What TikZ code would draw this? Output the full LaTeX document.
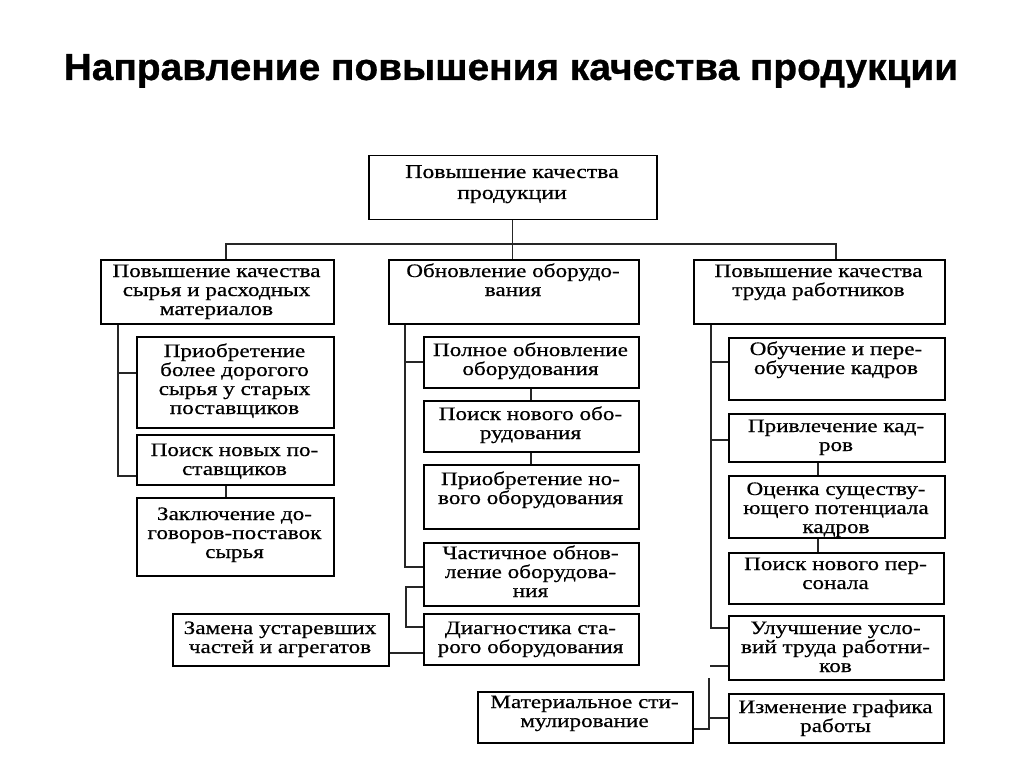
\documentclass[tikz,border=0pt]{standalone}
\usepackage{fontspec}
\setmainfont{Liberation Serif}[FakeStretch=1.22, FakeBold=0.5]
\newfontfamily\titlefont{Liberation Sans Bold}[FakeStretch=1.03, FakeBold=0.8]
\tikzset{
  box/.style={draw=black, line width=1.5pt, inner sep=0pt, anchor=north west},
  txt/.style={inner sep=0pt, anchor=base, font=\fontsize{19}{19}\selectfont},
  conn/.style={line width=1.3pt, draw=black!85},
}
% name, x1, y1, x2, y2, first baseline, text
\newcommand\bx[7]{%
  \node[box, minimum width={(#4-#2)*1pt}, minimum height={(#5-#3)*1pt}] (#1) at (#2,#3) {};
  \node[txt] (#1-t) at ({(#2+#4)/2},#6) {\parbox[t]{300pt}{\centering #7}};
}
\begin{document}
\begin{tikzpicture}[x=1pt, y=-1pt]
\fill[white] (0,0) rectangle (1024,767);
\useasboundingbox (0,0) rectangle (1024,767);

\node[font=\titlefont\fontsize{37.7}{40}\selectfont, anchor=base, inner sep=0pt] (title) at (511,80) {Направление повышения качества продукции};

\bx{top}{368}{155}{656}{219}{178}{\fontsize{19.5}{19}\selectfont Повышение качества\\[2pt]продукции}
\bx{A}{100}{259}{333}{323}{277}{Повышение качества\\сырья и расходных\\материалов}
\bx{B}{388}{259}{638}{323}{277}{Обновление оборудо-\\вания}
\bx{C}{693}{259}{944}{323}{277}{Повышение качества\\труда работников}

\bx{A1}{136}{336}{333}{427}{357}{Приобретение\\более дорогого\\сырья у старых\\поставщиков}
\bx{A2}{136}{434}{333}{484}{456}{Поиск новых по-\\ставщиков}
\bx{A3}{136}{497}{333}{575}{520}{Заключение до-\\говоров-поставок\\сырья}

\bx{B1}{423}{336}{638}{387}{356}{Полное обновление\\оборудования}
\bx{B2}{423}{400}{638}{451}{420}{Поиск нового обо-\\рудования}
\bx{B3}{423}{464}{638}{528}{485}{Приобретение но-\\вого оборудования}
\bx{B4}{423}{542}{638}{605}{559}{Частичное обнов-\\ление оборудова-\\ния}
\bx{B5}{423}{613}{638}{664}{634}{Диагностика ста-\\рого оборудования}
\bx{D}{172}{613}{388}{665}{634}{Замена устаревших\\частей и агрегатов}

\bx{C1}{728}{337}{944}{399}{355}{Обучение и пере-\\обучение кадров}
\bx{C2}{728}{413}{944}{461}{432}{Привлечение кад-\\ров}
\bx{C3}{728}{475}{944}{537}{495}{Оценка существу-\\ющего потенциала\\кадров}
\bx{C4}{728}{552}{943}{603}{570}{Поиск нового пер-\\сонала}
\bx{C5}{728}{615}{943}{679}{634}{Улучшение усло-\\вий труда работни-\\ков}
\bx{C6}{728}{693}{943}{742}{713}{Изменение графика\\работы}
\bx{E}{477}{691}{692}{742}{708}{Материальное сти-\\мулирование}

% top level
\coordinate (hl) at (226,244);
\coordinate (hr) at (836,244);
\draw[conn] (top.south) -- (top.south |- B.north);
\draw[conn] (hl |- A.north) -- (hl) -- (hr) -- (hr |- C.north);

% left column
\coordinate (la1) at (118,373);
\coordinate (la2) at (118,476);
\draw[conn] (la1 |- A.south) -- (la2) -- (la2 -| A2.west);
\draw[conn] (la1) -- (la1 -| A1.west);
\coordinate (a23) at (226,0);
\draw[conn] (a23 |- A2.south) -- (a23 |- A3.north);

% middle column
\coordinate (lb1) at (405,362);
\coordinate (lb2) at (405,567);
\draw[conn] (lb1 |- B.south) -- (lb2) -- (lb2 -| B4.west);
\draw[conn] (lb1) -- (lb1 -| B1.west);
\coordinate (b12) at (531,0);
\draw[conn] (b12 |- B1.south) -- (b12 |- B2.north);
\draw[conn] (b12 |- B2.south) -- (b12 |- B3.north);
\coordinate (lc1) at (406,587);
\coordinate (lc2) at (406,627);
\draw[conn] (lc1 -| B4.west) -- (lc1) -- (lc2) -- (lc2 -| B5.west);
\coordinate (ld) at (0,653);
\draw[conn] (ld -| D.east) -- (ld -| B5.west);

% right column
\coordinate (rc1) at (711,362);
\coordinate (rc2) at (711,440);
\coordinate (rc3) at (711,628);
\draw[conn] (rc1 |- C.south) -- (rc3) -- (rc3 -| C5.west);
\draw[conn] (rc1) -- (rc1 -| C1.west);
\draw[conn] (rc2) -- (rc2 -| C2.west);
\coordinate (c23) at (818,0);
\draw[conn] (c23 |- C2.south) -- (c23 |- C3.north);
\draw[conn] (c23 |- C3.south) -- (c23 |- C4.north);
\coordinate (rt) at (710,666);
\draw[conn] (rt -| C5.west) -- (rt);
\coordinate (re1) at (709,678);
\coordinate (re2) at (709,718);
\coordinate (re3) at (709,729);
\draw[conn] (re1) -- (re3) -- (re3 -| E.east);
\draw[conn] (re2) -- (re2 -| C6.west);
\end{tikzpicture}
\end{document}
